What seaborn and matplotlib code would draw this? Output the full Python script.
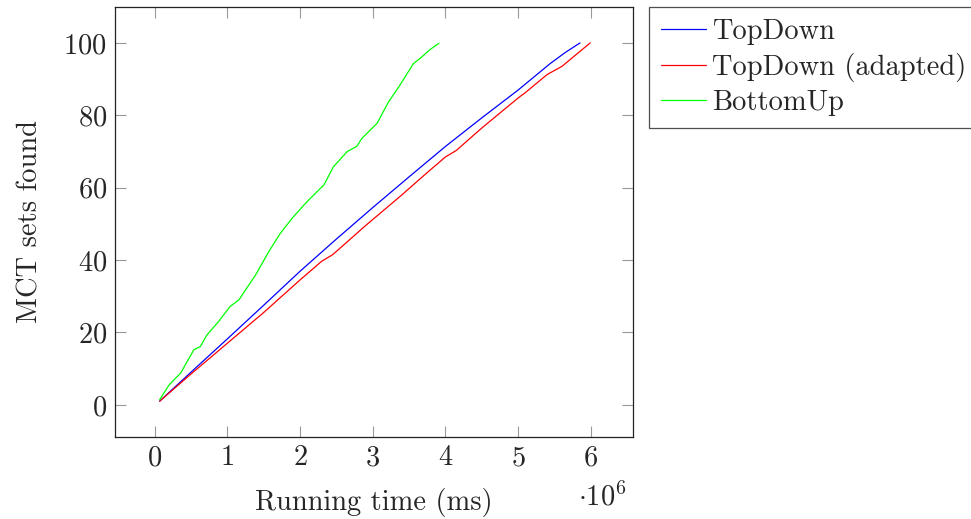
import pandas as pd
import matplotlib.pyplot as plt
import seaborn as sns

# series (x in units of 1e6 ms)
td_x = [0.07, 0.5, 1.0, 1.5, 2.0, 2.5, 3.0, 3.5, 4.0, 4.5, 5.0, 5.44, 5.65, 5.85]
td_y = [1, 9, 18.2, 27.5, 36.9, 45.8, 54.5, 63, 71.4, 79.3, 87, 94.3, 97.4, 100]

tda_x = [0.07, 0.5, 1.0, 1.5, 2.0, 2.3, 2.45, 2.9, 3.4, 3.75, 4.0, 4.15, 4.5, 5.0, 5.1, 5.4, 5.6, 5.99]
tda_y = [1, 8.5, 17, 25.5, 34.5, 39.7, 41.5, 49.5, 58, 64.2, 68.5, 70.3, 76.5, 84.8, 86.3, 91.3, 93.5, 100]

bu_x = [0.07, 0.2, 0.36, 0.54, 0.63, 0.72, 0.88, 1.04, 1.16, 1.39, 1.57, 1.73, 1.91,
        2.10, 2.33, 2.46, 2.65, 2.78, 2.85, 3.06, 3.22, 3.36, 3.56, 3.65, 3.79, 3.91]
bu_y = [1.4, 5.5, 8.8, 15.2, 16.1, 19.3, 23, 27.2, 29, 35.9, 42.3, 47.4, 52,
        56.2, 60.8, 65.8, 70, 71.4, 73.6, 77.8, 83.8, 87.9, 94.3, 95.7, 98.2, 99.9]

names = ['TopDown', 'TopDown (adapted)', 'BottomUp']
colors = {'TopDown': '#0000ff', 'TopDown (adapted)': '#ff0000', 'BottomUp': '#00ff00'}

frames = []
for name, xs, ys in zip(names, [td_x, tda_x, bu_x], [td_y, tda_y, bu_y]):
    frames.append(pd.DataFrame({'time': xs, 'found': ys, 'method': name}))
df = pd.concat(frames, ignore_index=True)

sns.set_style('ticks')
plt.rcParams['font.family'] = ['cmr10', 'DejaVu Serif']
plt.rcParams['mathtext.fontset'] = 'cm'
plt.rcParams['axes.unicode_minus'] = False
plt.rcParams['axes.formatter.use_mathtext'] = True

FS = 20.5
fig = plt.figure(figsize=(9.71, 5.19), dpi=100)
ax = fig.add_axes([0.1187, 0.1586, 0.652 - 0.1187, 0.987 - 0.1586])

sns.lineplot(data=df, x='time', y='found', hue='method', palette=colors,
             hue_order=names, sort=False, estimator=None, lw=0.9, ax=ax)

ax.set_xlim(-0.54, 6.58)
ax.set_ylim(-8.8, 110)
ax.set_xticks(range(0, 7))
ax.set_yticks(range(0, 101, 20))
ax.tick_params(axis='both', direction='in', length=8, width=0.8, color='#999999',
               labelsize=FS, top=True, right=True, pad=6)
for s in ax.spines.values():
    s.set_linewidth(0.9)
    s.set_color('#222222')

ax.set_xlabel('Running time (ms)', fontsize=FS, labelpad=12)
ax.set_ylabel('MCT sets found', fontsize=FS, labelpad=14)
fig.text(627 / 971, 1 - 505 / 519, r'$\cdot10^6$', ha='right', va='baseline', fontsize=FS)

leg = ax.legend(loc='upper left', bbox_to_anchor=(1.03, 1.0), borderaxespad=0,
                fontsize=FS, frameon=True, fancybox=False, handlelength=1.6,
                handletextpad=0.2, labelspacing=0.27, borderpad=0.42)
leg.get_frame().set_edgecolor('#222222')
leg.get_frame().set_linewidth(0.9)

fig.savefig('out.png', dpi=100)
